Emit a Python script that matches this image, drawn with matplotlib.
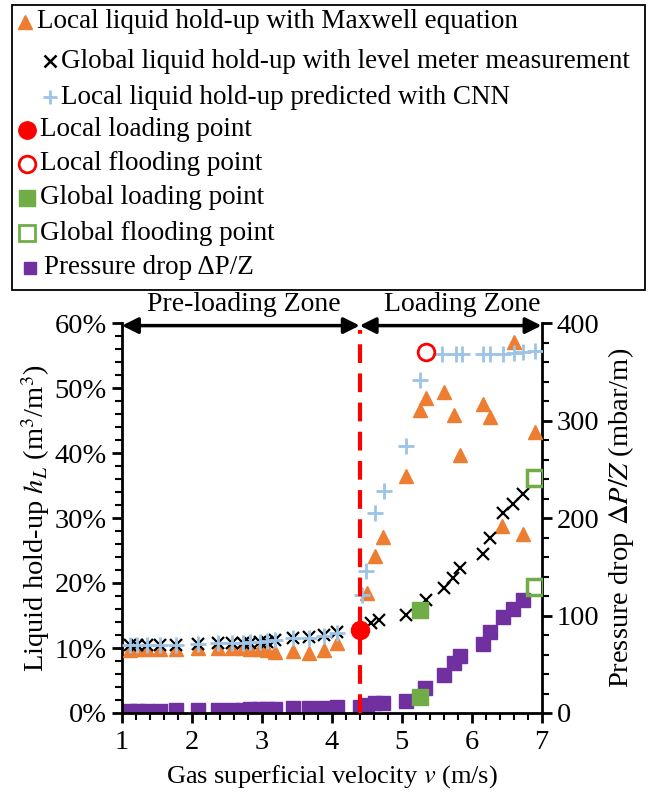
import matplotlib
matplotlib.use("Agg")
import matplotlib.pyplot as plt
from matplotlib.patches import Rectangle
from matplotlib.ticker import MultipleLocator, FuncFormatter

plt.rcParams['font.family'] = ['Liberation Serif', 'DejaVu Serif']
plt.rcParams['mathtext.fontset'] = 'stix'

# ---------------- data ----------------
v_maxwell = [1.11, 1.21, 1.36, 1.54, 1.77, 2.09, 2.37, 2.57, 2.73, 2.83, 2.97, 3.07, 3.19, 3.45, 3.68, 3.89, 4.08,
             4.50, 4.62, 4.74, 5.06, 5.26, 5.35, 5.60, 5.75, 5.84, 6.17, 6.26, 6.43, 6.60, 6.74, 6.90]
hl_maxwell = [9.7, 9.8, 9.8, 9.8, 9.9, 10.0, 10.0, 10.0, 10.0, 9.9, 9.8, 9.7, 9.4, 9.6, 9.2, 9.7, 10.7,
              18.4, 24.2, 27.1, 36.4, 46.6, 48.4, 49.4, 45.8, 39.7, 47.6, 45.6, 28.8, 57.1, 27.5, 43.3]

v_global = [1.11, 1.21, 1.36, 1.54, 1.77, 2.09, 2.37, 2.57, 2.73, 2.83, 2.97, 3.07, 3.19, 3.45, 3.68, 3.89, 4.08,
            4.56, 4.68, 5.06, 5.35, 5.60, 5.74, 5.84, 6.17, 6.27, 6.45, 6.59, 6.74]
hl_global = [10.4, 10.4, 10.5, 10.5, 10.5, 10.6, 10.7, 10.7, 10.8, 10.8, 10.9, 11.0, 11.2, 11.6, 11.7, 12.0, 12.4,
             13.9, 14.3, 15.1, 17.4, 19.2, 20.7, 22.3, 24.5, 27.0, 30.7, 32.2, 33.7]

v_cnn = [1.11, 1.21, 1.36, 1.54, 1.77, 2.09, 2.37, 2.57, 2.73, 2.83, 2.97, 3.07, 3.19, 3.45, 3.68, 3.89, 4.08,
         4.43, 4.49, 4.62, 4.75, 5.06, 5.26, 5.57, 5.78, 5.86, 6.17, 6.26, 6.45, 6.60, 6.74, 6.91]
hl_cnn = [10.5, 10.5, 10.5, 10.4, 10.5, 10.6, 10.7, 10.8, 10.8, 10.9, 11.0, 11.1, 11.3, 11.5, 11.6, 11.9, 12.3,
          18.2, 21.8, 30.8, 34.2, 41.1, 51.2, 55.2, 55.2, 55.2, 55.2, 55.2, 55.3, 55.4, 55.5, 55.7]

v_local_loading, hl_local_loading = [4.40], [12.8]
v_local_flooding, hl_local_flooding = [5.35], [55.5]

v_global_loading = [5.26]
hl_global_loading = [15.8]
dp_global_loading = [16.7]
v_global_flooding = [6.90]
hl_global_flooding = [36.1]
dp_global_flooding = [129.5]

v_dp = [1.11, 1.21, 1.36, 1.54, 1.77, 2.09, 2.37, 2.57, 2.73, 2.83, 2.97, 3.07, 3.19, 3.45, 3.68, 3.89, 4.08,
        4.40, 4.50, 4.62, 4.74, 5.06, 5.33, 5.60, 5.75, 5.84, 6.17, 6.27, 6.45, 6.59, 6.74]
dp = [2, 2, 2.5, 2.5, 3, 3, 3.5, 3.5, 3.5, 4, 4, 4, 4.5, 5, 5, 5.5, 6.5,
      6.5, 8, 9.9, 10.6, 12.6, 25.3, 39, 51, 58.5, 70.4, 83.4, 98.8, 106.4, 115.9]

v_boundary = 4.4
zone_labels = ["Pre-loading Zone", "Loading Zone"]

legend_labels = [
    "Local liquid hold-up with Maxwell equation",
    "Global liquid hold-up with level meter measurement",
    "Local liquid hold-up predicted with CNN",
    "Local loading point",
    "Local flooding point",
    "Global loading point",
    "Global flooding point",
    "Pressure drop \u0394P/Z",
]

c_orange = '#ED7D31'
c_blue = '#9DC3E6'
c_purple = '#7030A0'
c_green = '#70AD47'
c_red = '#FF0000'

tfs = 20.5   # tick labels
yfs = 20.5   # y labels
xfs = 19     # x label
zfs = 20     # zone labels
lfs = 19.5   # legend

fig = plt.figure(figsize=(6.59, 8.0), dpi=100)
ax = fig.add_axes([122/659, 1-713/800, (541.5-122)/659, (713-323)/800])
ax2 = ax.twinx()
ax.set_zorder(ax2.get_zorder() + 1)
ax.patch.set_visible(False)

# pressure drop axis
ax2.plot(v_dp, dp, 's', color=c_purple, ms=9.5, mec=c_purple, ls='none', zorder=3)
ax2.plot(v_global_loading, dp_global_loading, 's', color=c_green, ms=12, ls='none', zorder=4)
ax2.plot(v_global_flooding, dp_global_flooding, 's', mfc='none', mec=c_green, mew=2.5, ms=12, ls='none', zorder=4)

# hold-up axis
ax.plot(v_maxwell, hl_maxwell, '^', color=c_orange, ms=10, ls='none', zorder=3)
ax.plot(v_global, hl_global, 'x', color='black', ms=9, mew=1.6, ls='none', zorder=4)
ax.plot(v_cnn, hl_cnn, '+', color=c_blue, ms=11, mew=2, ls='none', zorder=5)
ax.plot(v_global_loading, hl_global_loading, 's', color=c_green, ms=12, ls='none', zorder=6)
ax.plot(v_global_flooding, hl_global_flooding, 's', mfc='none', mec=c_green, mew=2.5, ms=12, ls='none', zorder=6)
ax.plot([v_boundary, v_boundary], [0, 59], color=c_red, lw=3, ls=(0, (4.5, 2.5)), zorder=7)
ax.plot(v_local_loading, hl_local_loading, 'o', color=c_red, ms=13, ls='none', zorder=8)
ax.plot(v_local_flooding, hl_local_flooding, 'o', mfc='none', mec=c_red, mew=2, ms=12, ls='none', zorder=8)

ax.set_xlim(1, 7)
ax.set_ylim(0, 60)
ax2.set_ylim(0, 400)

ax.xaxis.set_major_locator(MultipleLocator(1))
ax.xaxis.set_minor_locator(MultipleLocator(0.2))
ax.yaxis.set_major_locator(MultipleLocator(10))
ax.yaxis.set_minor_locator(MultipleLocator(2))
ax.yaxis.set_major_formatter(FuncFormatter(lambda y, p: f"{y:.0f}%"))
ax2.yaxis.set_major_locator(MultipleLocator(100))
ax2.yaxis.set_minor_locator(MultipleLocator(20))

for a in (ax, ax2):
    a.spines['top'].set_visible(False)
    for s in a.spines.values():
        s.set_linewidth(2)
    a.tick_params(which='major', length=7, width=2, labelsize=tfs, direction='out')
    a.tick_params(which='minor', length=5, width=1.5, direction='out')
ax.tick_params(axis='x', which='major', pad=5)
ax.tick_params(axis='y', which='major', pad=4)
ax2.tick_params(axis='y', which='major', pad=4)
ax.spines['right'].set_visible(False)
ax2.spines['left'].set_visible(False)
ax2.spines['bottom'].set_visible(False)

ax.set_xlabel("Gas superficial velocity $v$ (m/s)", fontsize=xfs, labelpad=6)
ax.set_ylabel("Liquid hold-up $h_L$ (m$^3$/m$^3$)", fontsize=yfs, labelpad=2)
ax2.set_ylabel("Pressure drop $\\Delta P/Z$ (mbar/m)", fontsize=yfs, labelpad=5)

# zone arrows
arrow_y = 59.6
for xa, xb in ((1, v_boundary), (v_boundary, 7)):
    ax.annotate('', xy=(xa, arrow_y), xytext=(xb, arrow_y),
                arrowprops=dict(arrowstyle='<|-|>', lw=2.5, color='black', mutation_scale=24,
                                shrinkA=0, shrinkB=0), zorder=9)
ax.text(2.74, 62.9, zone_labels[0], ha='center', va='center', fontsize=zfs, clip_on=False)
ax.text(5.86, 62.9, zone_labels[1], ha='center', va='center', fontsize=zfs, clip_on=False)

# ---------------- legend (figure pixel coordinates) ----------------
lax = fig.add_axes([0, 0, 1, 1], zorder=20)
lax.set_xlim(0, 659)
lax.set_ylim(800, 0)
lax.axis('off')
lax.add_patch(Rectangle((12, 5), 633, 285, fill=False, edgecolor='black', lw=1.3))

row_y = [22, 61, 97, 130, 164, 198, 233, 268]
marker_x = [25, 50, 50, 27, 27, 27, 27, 30]
text_x = [37, 61, 61, 40, 40, 40, 40, 44]
styles = [
    dict(marker='^', color=c_orange, ms=9.5),
    dict(marker='x', color='black', ms=8.5, mew=1.8),
    dict(marker='+', color=c_blue, ms=10, mew=2),
    dict(marker='o', color=c_red, ms=12.5),
    dict(marker='o', mfc='none', mec=c_red, mew=2, ms=12),
    dict(marker='s', color=c_green, ms=11),
    dict(marker='s', mfc='none', mec=c_green, mew=2, ms=11),
    dict(marker='s', color=c_purple, ms=9),
]
for y, mx, tx, st, lab in zip(row_y, marker_x, text_x, styles, legend_labels):
    lax.plot([mx], [y], ls='none', **st)
    lax.text(tx, y, lab, ha='left', va='center', fontsize=lfs)

fig.savefig("out.png", dpi=100)
